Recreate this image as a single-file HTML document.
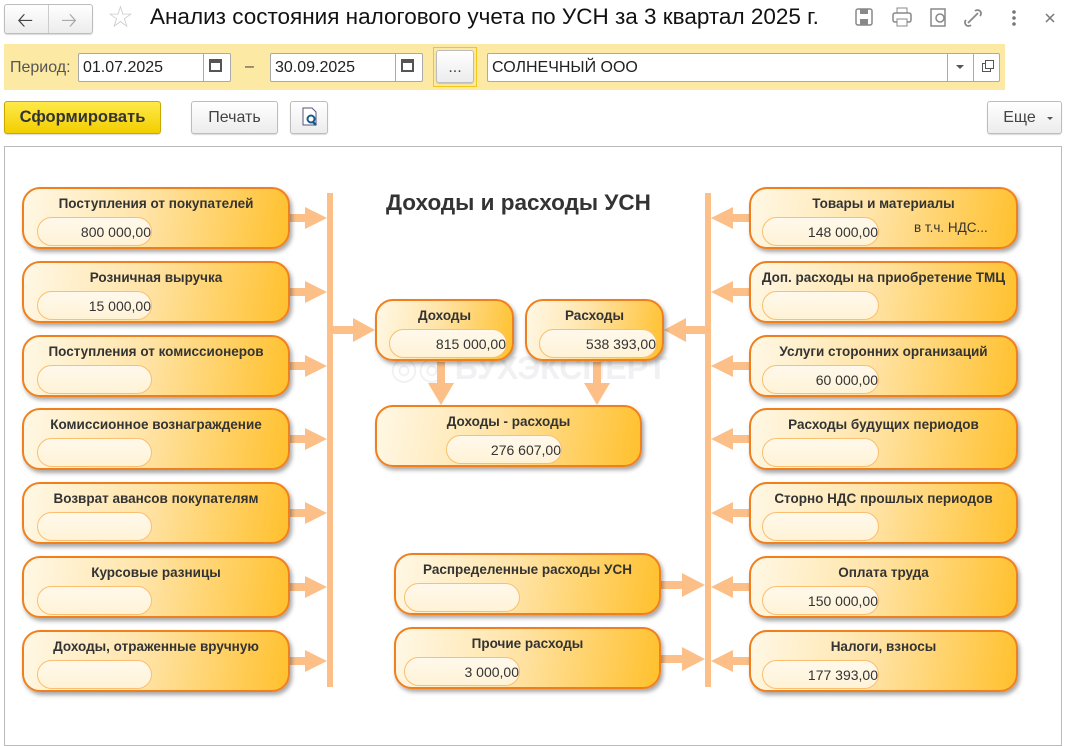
<!DOCTYPE html>
<html><head><meta charset="utf-8"><style>
*{box-sizing:border-box;margin:0;padding:0}
body{width:1065px;height:736px;background:#fff;font-family:"Liberation Sans","DejaVu Sans",sans-serif;position:relative;overflow:hidden;color:#333}
.a{position:absolute}
.btn{position:absolute;border:1px solid #bdbdbd;border-radius:3px;background:linear-gradient(#fff,#ececec);font-size:16px;color:#444;text-align:center;box-shadow:0 1px 1px rgba(0,0,0,.15)}
.inp{position:absolute;border:1px solid #aaa;border-radius:2px;background:#fff;font-size:16px;color:#222;padding:5px 0 0 4px}
.box{position:absolute;border:2px solid #f0801e;border-radius:18px;background:linear-gradient(100deg,#fff8e6 0%,#ffe4a8 45%,#ffc02c 100%);box-shadow:2px 3px 4px rgba(0,0,0,.35);height:62px}
.box .t{position:absolute;left:0;right:0;top:7px;text-align:center;font-weight:bold;font-size:13.5px;color:#333;white-space:nowrap}
.box .f{position:absolute;top:28px;height:29px;border:1.5px solid #fbbf6f;border-radius:15px;background:linear-gradient(#fff9ec,#fff3d6);font-size:14px;color:#333;text-align:right;padding:6px 0 0 0}
</style></head><body>
<div class="btn" style="left:4px;top:4px;width:89px;height:30px"></div>
<div class="a" style="left:48px;top:5px;width:1px;height:28px;background:#ccc"></div>
<div class="a" style="left:17px;top:6px;font-size:20px;color:#444">&#129120;</div>
<div class="a" style="left:61px;top:6px;font-size:20px;color:#aaa">&#129122;</div>
<div class="a" style="left:107px;top:0px;font-size:30px;color:#ccc">☆</div>
<div class="a" style="left:150px;top:4px;font-size:22.5px;color:#111;white-space:nowrap">Анализ состояния налогового учета по УСН за 3 квартал 2025 г.</div>
<svg class="a" style="left:850px;top:5px" width="215" height="26">
<rect x="6" y="4" width="16" height="16" rx="2" fill="none" stroke="#888" stroke-width="1.5"/><rect x="10" y="4" width="8" height="5" fill="#888"/><rect x="10" y="14" width="8" height="6" fill="#888"/>
<rect x="43" y="8" width="18" height="9" rx="2" fill="none" stroke="#888" stroke-width="1.5"/><rect x="47" y="3" width="10" height="5" fill="none" stroke="#888"/><rect x="47" y="14" width="10" height="7" fill="#fff" stroke="#888"/>
<rect x="81" y="4" width="14" height="17" fill="none" stroke="#888" stroke-width="1.5"/><circle cx="90" cy="13" r="4" fill="#fff" stroke="#888" stroke-width="1.5"/>
<path d="M118 18 l10 -10 M116 15 a3 3 0 0 0 5 5 M125 6 a3 3 0 0 1 5 5" stroke="#888" stroke-width="1.8" fill="none"/>
<circle cx="164" cy="7" r="1.8" fill="#777"/><circle cx="164" cy="13" r="1.8" fill="#777"/><circle cx="164" cy="19" r="1.8" fill="#777"/>
<path d="M196 9 l8 8 M204 9 l-8 8" stroke="#777" stroke-width="1.5"/>
</svg>
<div class="a" style="left:4px;top:44px;width:1001px;height:46px;background:#fbe9a4"></div>
<div class="a" style="left:10px;top:59px;font-size:16px;color:#555">Период:</div>
<div class="inp" style="left:78px;top:53px;width:153px;height:29px">01.07.2025</div>
<div class="a" style="left:203px;top:54px;width:1px;height:27px;background:#aaa"></div>
<div class="a" style="left:209px;top:59px;width:13px;height:13px;border:2px solid #555;border-top-width:4px"></div>
<div class="a" style="left:245px;top:58px;font-size:16px;color:#444">–</div>
<div class="inp" style="left:270px;top:53px;width:153px;height:29px">30.09.2025</div>
<div class="a" style="left:395px;top:54px;width:1px;height:27px;background:#aaa"></div>
<div class="a" style="left:401px;top:59px;width:13px;height:13px;border:2px solid #555;border-top-width:4px"></div>
<div class="a" style="left:433px;top:47px;width:44px;height:40px;border:1px solid #f5c518"></div>
<div class="btn" style="left:436px;top:50px;width:38px;height:33px;padding-top:8px">...</div>
<div class="inp" style="left:487px;top:53px;width:513px;height:29px">СОЛНЕЧНЫЙ ООО</div>
<div class="a" style="left:947px;top:54px;width:1px;height:27px;background:#aaa"></div>
<div class="a" style="left:973px;top:54px;width:1px;height:27px;background:#aaa"></div>
<div class="a" style="left:956px;top:65px;border:4px solid transparent;border-top:4px solid #555"></div>
<div class="a" style="left:982px;top:63px;width:9px;height:9px;border:1.5px solid #555;background:#fff"></div>
<div class="a" style="left:985px;top:60px;width:9px;height:9px;border:1.5px solid #555;background:#fff"></div>
<div class="btn" style="left:4px;top:101px;width:157px;height:33px;background:linear-gradient(#ffe94a,#f2cf00);border-color:#c9a800;font-weight:bold;color:#333;padding-top:6px;font-size:16.5px">Сформировать</div>
<div class="btn" style="left:191px;top:101px;width:87px;height:33px;padding-top:7px">Печать</div>
<div class="btn" style="left:290px;top:101px;width:38px;height:33px"></div>
<svg class="a" style="left:300px;top:107px" width="20" height="20"><path d="M3 1h9l4 4v13H3z" fill="#fff" stroke="#557"/><circle cx="11" cy="12" r="3.5" fill="none" stroke="#1a5a8a" stroke-width="2"/><path d="M13 15l3 3" stroke="#1a5a8a" stroke-width="2.5"/></svg>
<div class="btn" style="left:987px;top:101px;width:75px;height:33px;padding-top:7px;padding-right:10px">Еще</div>
<div class="a" style="left:1047px;top:117px;border:3px solid transparent;border-top:3px solid #555"></div>
<div class="a" style="left:4px;top:146px;width:1058px;height:600px;border:1px solid #bbb"></div>
<div class="a" style="left:386px;top:190px;font-size:22.5px;font-weight:bold;color:#333;white-space:nowrap">Доходы и расходы УСН</div>
<div class="a" style="left:390px;top:349px;font-size:32px;font-weight:bold;color:rgba(60,60,80,.07);white-space:nowrap">◎◎ БУХЭКСПЕРТ</div>
<svg class="a" style="left:0;top:0" width="1065" height="736">
<g fill="#fdbf88">
<rect x="327" y="193" width="6" height="494"/><rect x="705" y="193" width="6" height="494"/>
<g id="la"><rect x="290" y="214" width="16" height="8"/><path d="M305 207 L327 218 L305 229Z"/></g>
<use href="#la" y="74"/><use href="#la" y="148"/><use href="#la" y="221"/><use href="#la" y="295"/><use href="#la" y="369"/><use href="#la" y="443"/>
<g id="ra"><rect x="733" y="214" width="16" height="8"/><path d="M733 207 L711 218 L733 229Z"/></g>
<use href="#ra" y="74"/><use href="#ra" y="148"/><use href="#ra" y="221"/><use href="#ra" y="295"/><use href="#ra" y="369"/><use href="#ra" y="443"/>
<rect x="333" y="326" width="22" height="8"/><path d="M353 318 L375 330 L353 342Z"/>
<rect x="686" y="326" width="19" height="8"/><path d="M686 318 L664 330 L686 342Z"/>
<rect x="437" y="362" width="8" height="22"/><path d="M428 383 L441 405 L454 383Z"/>
<rect x="593" y="362" width="8" height="22"/><path d="M584 383 L597 405 L610 383Z"/>
<rect x="661" y="581" width="22" height="8"/><path d="M682 573 L705 585 L682 597Z"/>
<rect x="661" y="655" width="22" height="8"/><path d="M682 647 L705 659 L682 671Z"/>
</g></svg>
<div class="box" style="left:22px;top:187px;width:268px"><div class="t">Поступления от покупателей</div><div class="f" style="left:13px;width:115px">800 000,00</div></div>
<div class="box" style="left:22px;top:261px;width:268px"><div class="t">Розничная выручка</div><div class="f" style="left:13px;width:115px">15 000,00</div></div>
<div class="box" style="left:22px;top:335px;width:268px"><div class="t">Поступления от комиссионеров</div><div class="f" style="left:13px;width:115px"></div></div>
<div class="box" style="left:22px;top:408px;width:268px"><div class="t">Комиссионное вознаграждение</div><div class="f" style="left:13px;width:115px"></div></div>
<div class="box" style="left:22px;top:482px;width:268px"><div class="t">Возврат авансов покупателям</div><div class="f" style="left:13px;width:115px"></div></div>
<div class="box" style="left:22px;top:556px;width:268px"><div class="t">Курсовые разницы</div><div class="f" style="left:13px;width:115px"></div></div>
<div class="box" style="left:22px;top:630px;width:268px"><div class="t">Доходы, отраженные вручную</div><div class="f" style="left:13px;width:115px"></div></div>
<div class="box" style="left:749px;top:187px;width:269px"><div class="t">Товары и материалы</div><div class="f" style="left:11px;width:117px">148 000,00</div><div class="a" style="left:163px;top:31px;font-size:13.5px">в т.ч. НДС...</div></div>
<div class="box" style="left:749px;top:261px;width:269px"><div class="t">Доп. расходы на приобретение ТМЦ</div><div class="f" style="left:11px;width:117px"></div></div>
<div class="box" style="left:749px;top:335px;width:269px"><div class="t">Услуги сторонних организаций</div><div class="f" style="left:11px;width:117px">60 000,00</div></div>
<div class="box" style="left:749px;top:408px;width:269px"><div class="t">Расходы будущих периодов</div><div class="f" style="left:11px;width:117px"></div></div>
<div class="box" style="left:749px;top:482px;width:269px"><div class="t">Сторно НДС прошлых периодов</div><div class="f" style="left:11px;width:117px"></div></div>
<div class="box" style="left:749px;top:556px;width:269px"><div class="t">Оплата труда</div><div class="f" style="left:11px;width:117px">150 000,00</div></div>
<div class="box" style="left:749px;top:630px;width:269px"><div class="t">Налоги, взносы</div><div class="f" style="left:11px;width:117px">177 393,00</div></div>
<div class="box" style="left:375px;top:299px;width:139px"><div class="t">Доходы</div><div class="f" style="left:12px;width:118px">815 000,00</div></div>
<div class="box" style="left:525px;top:299px;width:139px"><div class="t">Расходы</div><div class="f" style="left:12px;width:118px">538 393,00</div></div>
<div class="box" style="left:375px;top:405px;width:267px"><div class="t">Доходы - расходы</div><div class="f" style="left:69px;width:116px">276 607,00</div></div>
<div class="box" style="left:394px;top:553px;width:267px"><div class="t">Распределенные расходы УСН</div><div class="f" style="left:8px;width:116px"></div></div>
<div class="box" style="left:394px;top:627px;width:267px"><div class="t">Прочие расходы</div><div class="f" style="left:8px;width:116px">3 000,00</div></div>
</body></html>
